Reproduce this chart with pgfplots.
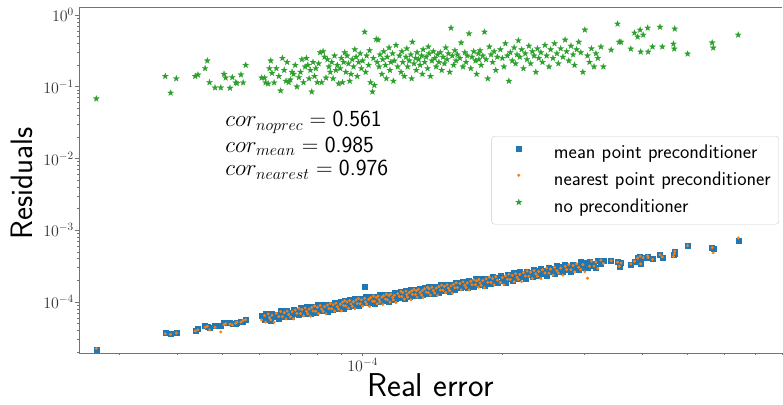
\documentclass[border=0pt]{standalone}
\usepackage{fix-cm}
\usepackage{pgfplots}
\usepackage{pgfplotstable}
\pgfplotsset{compat=1.18}

\definecolor{tabblue}{HTML}{1F77B4}
\definecolor{taborange}{HTML}{FF7F0E}
\definecolor{tabgreen}{HTML}{2CA02C}

% filled five-pointed star, like matplotlib's '*'
\pgfdeclareplotmark{fstar}{%
  \pgfpathmoveto{\pgfpointpolar{90}{\pgfplotmarksize}}%
  \pgfpathlineto{\pgfpointpolar{126}{0.4\pgfplotmarksize}}%
  \pgfpathlineto{\pgfpointpolar{162}{\pgfplotmarksize}}%
  \pgfpathlineto{\pgfpointpolar{198}{0.4\pgfplotmarksize}}%
  \pgfpathlineto{\pgfpointpolar{234}{\pgfplotmarksize}}%
  \pgfpathlineto{\pgfpointpolar{270}{0.4\pgfplotmarksize}}%
  \pgfpathlineto{\pgfpointpolar{306}{\pgfplotmarksize}}%
  \pgfpathlineto{\pgfpointpolar{342}{0.4\pgfplotmarksize}}%
  \pgfpathlineto{\pgfpointpolar{18}{\pgfplotmarksize}}%
  \pgfpathlineto{\pgfpointpolar{54}{0.4\pgfplotmarksize}}%
  \pgfpathclose
  \pgfusepathqfillstroke
}

% real error, residual (mean point), residual (nearest point), residual (no preconditioner)
\pgfplotstableread{
x        mean     nearest  noprec
2.67e-5  2.15e-5  2.25e-5  0.068
3.76e-5  3.72e-5  3.62e-5  0.14
3.86e-5  3.60e-5  3.55e-5  0.082
3.97e-5  3.78e-5  3.70e-5  0.13
4.36e-5  4.05e-5  3.95e-5  0.14
4.42e-5  4.22e-5  4.10e-5  0.147
4.58e-5  4.70e-5  4.45e-5  0.18
4.63e-5  4.55e-5  4.60e-5  0.23
4.68e-5  4.40e-5  4.10e-5  0.115
4.81e-5  4.62e-5  4.45e-5  0.097
4.95e-5  4.75e-5  3.83e-5  0.097
5.03e-5  5.10e-5  4.85e-5  0.15
5.07e-5  5.15e-5  5.00e-5  0.133
5.18e-5  5.12e-5  4.95e-5  0.096
5.24e-5  5.05e-5  4.80e-5  0.135
5.33e-5  4.95e-5  5.05e-5  0.114
5.36e-5  5.20e-5  5.25e-5  0.112
5.47e-5  5.40e-5  5.25e-5  0.147
5.53e-5  5.35e-5  5.55e-5  0.114
5.60e-5  5.75e-5  5.70e-5  0.20
6.06e-5  6.48e-5  5.64e-5  0.133
6.15e-5  5.60e-5  6.46e-5  0.133
6.18e-5  6.85e-5  5.26e-5  0.114
6.26e-5  5.89e-5  6.82e-5  0.11
6.30e-5  6.36e-5  6.11e-5  0.18
6.34e-5  5.53e-5  5.65e-5  0.23
6.38e-5  6.95e-5  6.57e-5  0.155
6.45e-5  6.20e-5  5.24e-5  0.114
6.52e-5  6.77e-5  6.97e-5  0.18
6.60e-5  5.88e-5  6.27e-5  0.14
6.66e-5  7.51e-5  7.38e-5  0.088
6.72e-5  6.18e-5  6.25e-5  0.25
6.78e-5  7.25e-5  7.11e-5  0.17
6.84e-5  6.23e-5  5.82e-5  0.12
6.88e-5  7.63e-5  7.49e-5  0.22
6.93e-5  6.52e-5  6.72e-5  0.115
6.99e-5  7.06e-5  6.23e-5  0.125
7.05e-5  6.20e-5  7.33e-5  0.16
7.10e-5  7.81e-5  5.82e-5  0.15
7.16e-5  6.95e-5  7.73e-5  0.20
7.22e-5  7.58e-5  6.93e-5  0.10
7.29e-5  6.56e-5  8.16e-5  0.135
7.35e-5  8.38e-5  6.91e-5  0.16
7.40e-5  6.88e-5  7.84e-5  0.24
7.46e-5  8.06e-5  6.42e-5  0.115
7.52e-5  6.92e-5  8.27e-5  0.19
7.57e-5  8.48e-5  7.42e-5  0.25
7.62e-5  7.24e-5  6.86e-5  0.20
7.67e-5  7.82e-5  7.98e-5  0.13
7.72e-5  6.79e-5  6.33e-5  0.17
7.77e-5  8.55e-5  8.39e-5  0.085
7.82e-5  7.59e-5  7.51e-5  0.22
7.88e-5  8.27e-5  8.83e-5  0.14
7.93e-5  7.14e-5  7.45e-5  0.18
7.99e-5  9.11e-5  8.47e-5  0.115
8.04e-5  7.48e-5  6.91e-5  0.21
8.10e-5  8.75e-5  8.91e-5  0.30
8.16e-5  7.51e-5  8.00e-5  0.115
8.22e-5  9.21e-5  7.40e-5  0.31
8.28e-5  7.87e-5  8.61e-5  0.26
8.34e-5  8.51e-5  6.84e-5  0.133
8.40e-5  7.39e-5  9.07e-5  0.24
8.46e-5  9.31e-5  8.12e-5  0.19
8.52e-5  8.26e-5  9.54e-5  0.16
8.58e-5  9.01e-5  8.07e-5  0.22
8.64e-5  7.78e-5  9.16e-5  0.13
8.70e-5  9.92e-5  7.48e-5  0.27
8.76e-5  8.15e-5  9.64e-5  0.17
8.82e-5  9.53e-5  8.64e-5  0.20
8.88e-5  8.17e-5  7.99e-5  0.11
8.95e-5  1.00e-4  9.31e-5  0.18
9.00e-5  8.72e-5  7.53e-5  0.25
9.05e-5  9.41e-5  9.97e-5  0.115
9.10e-5  8.17e-5  8.91e-5  0.22
9.15e-5  1.03e-4  1.045e-4 0.30
9.20e-5  9.10e-5  8.82e-5  0.16
9.26e-5  9.92e-5  1.00e-4  0.27
9.32e-5  8.56e-5  8.18e-5  0.21
9.38e-5  1.09e-4  1.05e-4  0.12
9.44e-5  8.96e-5  9.44e-5  0.15
9.50e-5  1.05e-4  8.72e-5  0.24
9.56e-5  8.97e-5  1.01e-4  0.19
9.62e-5  1.10e-4  8.04e-5  0.33
9.68e-5  9.38e-5  1.07e-4  0.26
9.74e-5  1.01e-4  9.53e-5  0.14
9.80e-5  8.80e-5  1.12e-4  0.22
9.88e-5  1.11e-4  9.48e-5  0.29
9.94e-5  9.84e-5  1.07e-4  0.18
1.00e-4  1.07e-4  8.77e-5  0.23
1.01e-4  1.62e-4  1.13e-4  0.58
1.015e-4 1.18e-4  1.01e-4  0.16
1.02e-4  9.67e-5  9.36e-5  0.27
1.03e-4  1.13e-4  1.09e-4  0.20
1.035e-4 9.72e-5  8.66e-5  0.32
1.04e-4  1.19e-4  1.15e-4  0.115
1.05e-4  1.02e-4  1.03e-4  0.085
1.055e-4 1.10e-4  1.21e-4  0.25
1.06e-4  9.51e-5  1.02e-4  0.105
1.07e-4  1.20e-4  1.16e-4  0.46
1.075e-4 1.06e-4  9.43e-5  0.22
1.08e-4  1.16e-4  1.21e-4  0.45
1.085e-4 9.96e-5  1.08e-4  0.19
1.09e-4  1.27e-4  1.00e-4  0.28
1.10e-4  1.04e-4  1.17e-4  0.15
1.105e-4 1.22e-4  9.24e-5  0.24
1.11e-4  1.04e-4  1.22e-4  0.31
1.12e-4  1.28e-4  1.10e-4  0.20
1.125e-4 1.09e-4  1.29e-4  0.13
1.13e-4  1.18e-4  1.08e-4  0.26
1.14e-4  1.02e-4  1.23e-4  0.35
1.145e-4 1.28e-4  1.00e-4  0.17
1.15e-4  1.14e-4  1.29e-4  0.22
1.16e-4  1.24e-4  1.16e-4  0.29
1.165e-4 1.07e-4  1.07e-4  0.12
1.17e-4  1.36e-4  1.24e-4  0.23
1.18e-4  1.12e-4  9.87e-5  0.38
1.19e-4  1.31e-4  1.31e-4  0.19
1.20e-4  1.15e-4  1.20e-4  0.27
1.21e-4  1.41e-4  1.41e-4  0.16
1.215e-4 1.20e-4  1.19e-4  0.31
1.22e-4  1.29e-4  1.35e-4  0.22
1.23e-4  1.13e-4  1.10e-4  0.14
1.24e-4  1.42e-4  1.42e-4  0.26
1.245e-4 1.26e-4  1.27e-4  0.34
1.25e-4  1.37e-4  1.17e-4  0.19
1.26e-4  1.18e-4  1.36e-4  0.23
1.27e-4  1.51e-4  1.08e-4  0.28
1.275e-4 1.23e-4  1.43e-4  0.13
1.28e-4  1.44e-4  1.28e-4  0.42
1.29e-4  1.23e-4  1.50e-4  0.21
1.30e-4  1.51e-4  1.27e-4  0.25
1.305e-4 1.29e-4  1.44e-4  0.17
1.31e-4  1.39e-4  1.17e-4  0.30
1.32e-4  1.21e-4  1.51e-4  0.24
1.33e-4  1.52e-4  1.36e-4  0.20
1.34e-4  1.35e-4  1.25e-4  0.27
1.345e-4 1.47e-4  1.45e-4  0.15
1.35e-4  1.26e-4  1.15e-4  0.33
1.36e-4  1.61e-4  1.53e-4  0.22
1.37e-4  1.33e-4  1.37e-4  0.26
1.38e-4  1.55e-4  1.61e-4  0.18
1.385e-4 1.32e-4  1.35e-4  0.36
1.39e-4  1.62e-4  1.53e-4  0.29
1.40e-4  1.38e-4  1.25e-4  0.14
1.41e-4  1.50e-4  1.61e-4  0.23
1.42e-4  1.30e-4  1.45e-4  0.31
1.43e-4  1.64e-4  1.34e-4  0.25
1.44e-4  1.45e-4  1.56e-4  0.19
1.45e-4  1.58e-4  1.24e-4  0.28
1.46e-4  1.37e-4  1.64e-4  0.22
1.47e-4  1.74e-4  1.47e-4  0.30
1.48e-4  1.43e-4  1.72e-4  0.17
1.49e-4  1.67e-4  1.46e-4  0.26
1.50e-4  1.44e-4  1.65e-4  0.21
1.51e-4  1.76e-4  1.35e-4  0.35
1.52e-4  1.50e-4  1.74e-4  0.24
1.53e-4  1.62e-4  1.56e-4  0.29
1.54e-4  1.41e-4  1.44e-4  0.16
1.55e-4  1.77e-4  1.68e-4  0.66
1.56e-4  1.57e-4  1.33e-4  0.27
1.57e-4  1.71e-4  1.76e-4  0.20
1.58e-4  1.48e-4  1.58e-4  0.32
1.59e-4  1.89e-4  1.85e-4  0.23
1.60e-4  1.57e-4  1.59e-4  0.28
1.62e-4  1.85e-4  1.81e-4  0.25
1.63e-4  1.58e-4  1.48e-4  0.41
1.645e-4 1.94e-4  1.91e-4  0.19
1.66e-4  1.66e-4  1.72e-4  0.30
1.67e-4  1.80e-4  1.59e-4  0.22
1.68e-4  1.56e-4  1.84e-4  0.27
1.695e-4 1.97e-4  1.47e-4  0.55
1.71e-4  1.75e-4  1.95e-4  0.18
1.72e-4  1.91e-4  1.74e-4  0.26
1.735e-4 1.65e-4  2.05e-4  0.31
1.75e-4  2.10e-4  1.74e-4  0.23
1.76e-4  1.73e-4  1.97e-4  0.15
1.775e-4 2.02e-4  1.61e-4  0.29
1.78e-4  1.73e-4  2.07e-4  0.24
1.79e-4  2.11e-4  1.85e-4  0.32
1.80e-4  1.80e-4  1.71e-4  0.20
1.815e-4 1.95e-4  1.99e-4  0.27
1.83e-4  1.70e-4  1.58e-4  0.58
1.845e-4 2.14e-4  2.10e-4  0.24
1.86e-4  1.90e-4  1.88e-4  0.13
1.875e-4 2.08e-4  2.22e-4  0.36
1.89e-4  1.79e-4  1.87e-4  0.28
1.905e-4 2.29e-4  2.13e-4  0.22
1.92e-4  1.88e-4  1.74e-4  0.31
1.935e-4 2.20e-4  2.25e-4  0.17
1.95e-4  1.89e-4  2.02e-4  0.26
1.98e-4  2.34e-4  1.88e-4  0.33
2.00e-4  2.00e-4  2.19e-4  0.25
2.015e-4 2.17e-4  1.74e-4  0.19
2.03e-4  1.88e-4  2.31e-4  0.40
2.05e-4  2.38e-4  2.08e-4  0.27
2.065e-4 2.11e-4  2.44e-4  0.12
2.08e-4  2.30e-4  2.06e-4  0.30
2.10e-4  1.99e-4  2.35e-4  0.23
2.12e-4  2.55e-4  1.92e-4  0.35
2.135e-4 2.09e-4  2.48e-4  0.21
2.15e-4  2.45e-4  2.22e-4  0.28
2.165e-4 2.10e-4  2.06e-4  0.44
2.18e-4  2.61e-4  2.43e-4  0.26
2.20e-4  2.24e-4  1.93e-4  0.33
2.22e-4  2.42e-4  2.57e-4  0.18
2.24e-4  2.11e-4  2.30e-4  0.29
2.26e-4  2.66e-4  2.71e-4  0.24
2.28e-4  2.37e-4  2.29e-4  0.37
2.30e-4  2.58e-4  2.61e-4  0.21
2.32e-4  2.23e-4  2.13e-4  0.31
2.34e-4  2.85e-4  2.75e-4  0.27
2.36e-4  2.35e-4  2.47e-4  0.16
2.38e-4  2.75e-4  2.29e-4  0.34
2.395e-4 2.36e-4  2.67e-4  0.25
2.42e-4  2.90e-4  2.12e-4  0.30
2.44e-4  2.48e-4  2.82e-4  0.22
2.47e-4  2.70e-4  2.54e-4  0.38
2.49e-4  2.34e-4  2.98e-4  0.27
2.52e-4  2.97e-4  2.53e-4  0.19
2.54e-4  2.64e-4  2.88e-4  0.33
2.57e-4  2.89e-4  2.37e-4  0.25
2.59e-4  2.49e-4  3.05e-4  0.40
2.62e-4  3.20e-4  2.75e-4  0.29
2.64e-4  2.63e-4  2.54e-4  0.21
2.67e-4  3.09e-4  2.97e-4  0.34
2.70e-4  2.66e-4  2.37e-4  0.26
2.73e-4  3.27e-4  3.15e-4  0.45
2.75e-4  2.80e-4  2.83e-4  0.31
2.78e-4  3.03e-4  3.33e-4  0.23
2.81e-4  2.65e-4  2.83e-4  0.37
2.84e-4  3.34e-4  3.22e-4  0.28
2.86e-4  2.97e-4  2.63e-4  0.20
2.89e-4  3.25e-4  3.40e-4  0.33
2.92e-4  2.81e-4  3.06e-4  0.42
2.95e-4  3.60e-4  2.84e-4  0.30
2.98e-4  2.97e-4  3.32e-4  0.16
3.01e-4  3.48e-4  2.64e-4  0.62
3.05e-4  3.00e-4  2.15e-4  0.27
3.08e-4  3.69e-4  3.16e-4  0.22
3.11e-4  3.16e-4  3.73e-4  0.34
3.15e-4  3.44e-4  3.17e-4  0.19
3.18e-4  2.99e-4  3.61e-4  0.29
3.21e-4  3.78e-4  2.95e-4  0.25
3.26e-4  3.38e-4  3.84e-4  0.36
3.30e-4  3.71e-4  3.46e-4  0.19
3.43e-4  3.71e-4  3.78e-4  0.326
3.54e-4  3.63e-4  3.60e-4  0.75
3.57e-4  3.09e-4  3.15e-4  0.42
3.60e-4  3.56e-4  3.50e-4  0.42
3.78e-4  3.34e-4  3.40e-4  0.337
3.85e-4  3.63e-4  3.70e-4  0.562
3.91e-4  4.18e-4  4.10e-4  0.495
3.96e-4  4.26e-4  4.35e-4  0.619
3.97e-4  3.45e-4  3.40e-4  0.306
4.02e-4  4.10e-4  4.15e-4  0.527
4.11e-4  4.26e-4  4.40e-4  0.66
4.12e-4  4.20e-4  4.15e-4  0.306
4.21e-4  3.96e-4  3.92e-4  0.36
4.37e-4  4.60e-4  4.55e-4  0.68
4.42e-4  4.18e-4  4.25e-4  0.36
4.67e-4  4.50e-4  4.30e-4  0.395
4.70e-4  5.00e-4  5.10e-4  0.64
4.69e-4  4.75e-4  4.70e-4  0.337
5.01e-4  6.00e-4  6.10e-4  0.287
5.66e-4  5.70e-4  5.75e-4  0.41
5.69e-4  5.57e-4  4.84e-4  0.348
6.44e-4  7.26e-4  7.80e-4  0.527
}\errtable

\begin{document}
\begin{tikzpicture}
\begin{axis}[
    scale only axis,
    width=703pt, height=346pt,
    xmode=log, ymode=log,
    xmin=2.45e-5, xmax=8.0e-4,
    ymin=1.95e-5, ymax=1.29,
    axis x line*=box, axis y line*=left,
    xtick pos=bottom, ytick pos=left,
    axis line style={black!55, line width=0.9pt},
    tick align=outside,
    major tick length=3.5pt, minor tick length=2pt,
    every tick/.style={black!55, line width=0.7pt},
    xtick={1e-4},
    minor xtick={3e-5,4e-5,5e-5,6e-5,7e-5,8e-5,9e-5,2e-4,3e-4,4e-4,5e-4,6e-4,7e-4,8e-4},
    ytick={1e-4,1e-3,1e-2,1e-1,1},
    minor ytick={2e-5,3e-5,4e-5,5e-5,6e-5,7e-5,8e-5,9e-5,
                 2e-4,3e-4,4e-4,5e-4,6e-4,7e-4,8e-4,9e-4,
                 2e-3,3e-3,4e-3,5e-3,6e-3,7e-3,8e-3,9e-3,
                 2e-2,3e-2,4e-2,5e-2,6e-2,7e-2,8e-2,9e-2,
                 2e-1,3e-1,4e-1,5e-1,6e-1,7e-1,8e-1,9e-1},
    ticklabel style={font=\fontsize{16}{19}\selectfont, text=black!80},
    yticklabel style={inner sep=1.5pt},
    xticklabel style={inner sep=1.5pt},
    xlabel={Real error},
    ylabel={Residuals},
    every axis x label/.style={at={(axis description cs:0.5,-0.127)}, anchor=base,
        font=\fontsize{33}{39}\selectfont\sffamily},
    every axis y label/.style={at={(axis description cs:-0.0654,0.49)}, rotate=90, anchor=base,
        font=\fontsize{31}{37}\selectfont\sffamily},
    legend cell align=left,
    legend style={
        at={(axis description cs:0.9957,0.627)}, anchor=north east,
        draw=black!20, rounded corners=3pt, fill=white,
        font=\fontsize{19.8}{23}\selectfont\sffamily,
        inner xsep=8pt, inner ysep=8pt,
        nodes={inner sep=0pt, text height=14pt, text depth=4pt},
        row sep=9pt,
    },
    legend image code/.code={
        \path (0pt,0pt) (54pt,0pt);
        \draw[#1] plot coordinates {(19pt,5pt)};
    },
]
\addplot[only marks, mark=square*, mark size=2.5pt, color=tabblue]
    table[x=x, y=mean] {\errtable};
\addlegendentry{mean point preconditioner}
\addplot[only marks, mark=*, mark size=1.3pt, color=taborange]
    table[x=x, y=nearest] {\errtable};
\addlegendentry{nearest point preconditioner}
\addplot[only marks, mark=fstar, mark size=3.2pt, color=tabgreen, line width=0.2pt]
    table[x=x, y=noprec] {\errtable};
\addlegendentry{no preconditioner}

\node[anchor=base west, font=\fontsize{23}{27}\selectfont]
    at (axis description cs:0.2034,0.6532) {$cor_{noprec} = \textsf{0.561}$};
\node[anchor=base west, font=\fontsize{23}{27}\selectfont]
    at (axis description cs:0.2034,0.5809) {$cor_{mean} = \textsf{0.985}$};
\node[anchor=base west, font=\fontsize{23}{27}\selectfont]
    at (axis description cs:0.2034,0.5116) {$cor_{nearest} = \textsf{0.976}$};
\end{axis}
\pgfresetboundingbox
\path ([xshift=-79pt,yshift=-51pt]current axis.south west)
    rectangle ([xshift=1pt,yshift=7pt]current axis.north east);
\end{tikzpicture}
\end{document}
